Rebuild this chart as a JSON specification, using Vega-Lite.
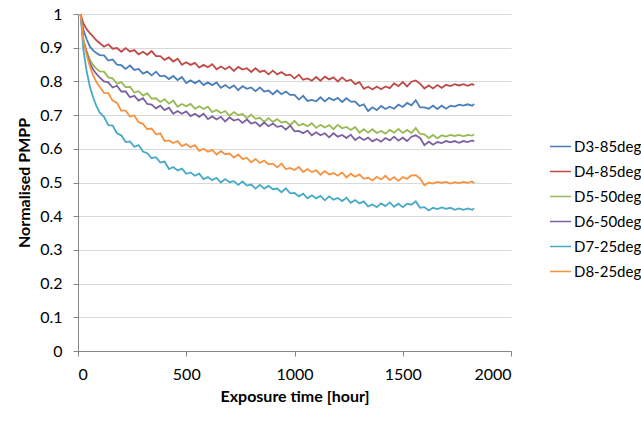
{
"$schema": "https://vega.github.io/schema/vega-lite/v6.json",
"width": 433, "height": 337,
"autosize": {"type": "none"},
"padding": {"left": 78, "top": 14, "right": 130, "bottom": 70},
"background": "white",
"config": {"font": "Lato", "view": {"stroke": null}},
"data": {"values": [
{"s":"D3-85deg","t":12,"p":1.0},{"s":"D3-85deg","t":25,"p":0.953},{"s":"D3-85deg","t":40,"p":0.925},{"s":"D3-85deg","t":55,"p":0.903},{"s":"D3-85deg","t":70,"p":0.892},{"s":"D3-85deg","t":85,"p":0.884},{"s":"D3-85deg","t":100,"p":0.878},
{"s":"D3-85deg","t":120,"p":0.877},{"s":"D3-85deg","t":140,"p":0.862},{"s":"D3-85deg","t":160,"p":0.865},{"s":"D3-85deg","t":180,"p":0.850},{"s":"D3-85deg","t":200,"p":0.848},{"s":"D3-85deg","t":220,"p":0.837},{"s":"D3-85deg","t":240,"p":0.847},{"s":"D3-85deg","t":260,"p":0.834},{"s":"D3-85deg","t":280,"p":0.837},{"s":"D3-85deg","t":300,"p":0.823},
{"s":"D3-85deg","t":320,"p":0.829},{"s":"D3-85deg","t":340,"p":0.818},{"s":"D3-85deg","t":360,"p":0.829},{"s":"D3-85deg","t":380,"p":0.815},{"s":"D3-85deg","t":400,"p":0.817},{"s":"D3-85deg","t":420,"p":0.807},{"s":"D3-85deg","t":440,"p":0.816},{"s":"D3-85deg","t":460,"p":0.804},{"s":"D3-85deg","t":480,"p":0.813},{"s":"D3-85deg","t":500,"p":0.795},
{"s":"D3-85deg","t":520,"p":0.803},{"s":"D3-85deg","t":540,"p":0.795},{"s":"D3-85deg","t":560,"p":0.802},{"s":"D3-85deg","t":580,"p":0.789},{"s":"D3-85deg","t":600,"p":0.797},{"s":"D3-85deg","t":620,"p":0.789},{"s":"D3-85deg","t":640,"p":0.797},{"s":"D3-85deg","t":660,"p":0.781},{"s":"D3-85deg","t":680,"p":0.789},{"s":"D3-85deg","t":700,"p":0.780},
{"s":"D3-85deg","t":720,"p":0.788},{"s":"D3-85deg","t":740,"p":0.774},{"s":"D3-85deg","t":760,"p":0.786},{"s":"D3-85deg","t":780,"p":0.778},{"s":"D3-85deg","t":800,"p":0.782},{"s":"D3-85deg","t":820,"p":0.771},{"s":"D3-85deg","t":840,"p":0.782},{"s":"D3-85deg","t":860,"p":0.770},{"s":"D3-85deg","t":880,"p":0.773},{"s":"D3-85deg","t":900,"p":0.762},
{"s":"D3-85deg","t":920,"p":0.773},{"s":"D3-85deg","t":940,"p":0.762},{"s":"D3-85deg","t":960,"p":0.770},{"s":"D3-85deg","t":980,"p":0.760},{"s":"D3-85deg","t":1000,"p":0.760},{"s":"D3-85deg","t":1020,"p":0.746},{"s":"D3-85deg","t":1040,"p":0.757},{"s":"D3-85deg","t":1060,"p":0.742},{"s":"D3-85deg","t":1080,"p":0.745},{"s":"D3-85deg","t":1100,"p":0.741},
{"s":"D3-85deg","t":1120,"p":0.753},{"s":"D3-85deg","t":1140,"p":0.741},{"s":"D3-85deg","t":1160,"p":0.751},{"s":"D3-85deg","t":1180,"p":0.744},{"s":"D3-85deg","t":1200,"p":0.751},{"s":"D3-85deg","t":1220,"p":0.739},{"s":"D3-85deg","t":1240,"p":0.750},{"s":"D3-85deg","t":1260,"p":0.740},{"s":"D3-85deg","t":1280,"p":0.740},{"s":"D3-85deg","t":1300,"p":0.727},
{"s":"D3-85deg","t":1320,"p":0.732},{"s":"D3-85deg","t":1340,"p":0.712},{"s":"D3-85deg","t":1360,"p":0.723},{"s":"D3-85deg","t":1380,"p":0.715},{"s":"D3-85deg","t":1400,"p":0.727},{"s":"D3-85deg","t":1420,"p":0.718},{"s":"D3-85deg","t":1440,"p":0.725},{"s":"D3-85deg","t":1460,"p":0.719},{"s":"D3-85deg","t":1480,"p":0.731},{"s":"D3-85deg","t":1500,"p":0.724},
{"s":"D3-85deg","t":1520,"p":0.736},{"s":"D3-85deg","t":1540,"p":0.729},{"s":"D3-85deg","t":1560,"p":0.744},{"s":"D3-85deg","t":1580,"p":0.723},{"s":"D3-85deg","t":1600,"p":0.723},{"s":"D3-85deg","t":1620,"p":0.719},{"s":"D3-85deg","t":1640,"p":0.728},{"s":"D3-85deg","t":1660,"p":0.718},{"s":"D3-85deg","t":1680,"p":0.728},{"s":"D3-85deg","t":1700,"p":0.719},
{"s":"D3-85deg","t":1720,"p":0.728},{"s":"D3-85deg","t":1740,"p":0.725},{"s":"D3-85deg","t":1760,"p":0.731},{"s":"D3-85deg","t":1780,"p":0.728},{"s":"D3-85deg","t":1800,"p":0.732},{"s":"D3-85deg","t":1820,"p":0.728},{"s":"D3-85deg","t":1830,"p":0.733},

{"s":"D4-85deg","t":12,"p":1.0},{"s":"D4-85deg","t":25,"p":0.972},{"s":"D4-85deg","t":40,"p":0.955},{"s":"D4-85deg","t":55,"p":0.943},{"s":"D4-85deg","t":70,"p":0.933},{"s":"D4-85deg","t":85,"p":0.922},{"s":"D4-85deg","t":100,"p":0.914},
{"s":"D4-85deg","t":120,"p":0.903},{"s":"D4-85deg","t":140,"p":0.910},{"s":"D4-85deg","t":160,"p":0.897},{"s":"D4-85deg","t":180,"p":0.899},{"s":"D4-85deg","t":200,"p":0.888},{"s":"D4-85deg","t":220,"p":0.899},{"s":"D4-85deg","t":240,"p":0.889},{"s":"D4-85deg","t":260,"p":0.893},{"s":"D4-85deg","t":280,"p":0.880},{"s":"D4-85deg","t":300,"p":0.888},
{"s":"D4-85deg","t":320,"p":0.879},{"s":"D4-85deg","t":340,"p":0.890},{"s":"D4-85deg","t":360,"p":0.875},{"s":"D4-85deg","t":380,"p":0.875},{"s":"D4-85deg","t":400,"p":0.864},{"s":"D4-85deg","t":420,"p":0.871},{"s":"D4-85deg","t":440,"p":0.859},{"s":"D4-85deg","t":460,"p":0.867},{"s":"D4-85deg","t":480,"p":0.849},{"s":"D4-85deg","t":500,"p":0.857},
{"s":"D4-85deg","t":520,"p":0.849},{"s":"D4-85deg","t":540,"p":0.855},{"s":"D4-85deg","t":560,"p":0.841},{"s":"D4-85deg","t":580,"p":0.849},{"s":"D4-85deg","t":600,"p":0.842},{"s":"D4-85deg","t":620,"p":0.851},{"s":"D4-85deg","t":640,"p":0.836},{"s":"D4-85deg","t":660,"p":0.844},{"s":"D4-85deg","t":680,"p":0.836},{"s":"D4-85deg","t":700,"p":0.844},
{"s":"D4-85deg","t":720,"p":0.831},{"s":"D4-85deg","t":740,"p":0.843},{"s":"D4-85deg","t":760,"p":0.835},{"s":"D4-85deg","t":780,"p":0.839},{"s":"D4-85deg","t":800,"p":0.828},{"s":"D4-85deg","t":820,"p":0.839},{"s":"D4-85deg","t":840,"p":0.828},{"s":"D4-85deg","t":860,"p":0.832},{"s":"D4-85deg","t":880,"p":0.821},{"s":"D4-85deg","t":900,"p":0.832},
{"s":"D4-85deg","t":920,"p":0.821},{"s":"D4-85deg","t":940,"p":0.828},{"s":"D4-85deg","t":960,"p":0.818},{"s":"D4-85deg","t":980,"p":0.820},{"s":"D4-85deg","t":1000,"p":0.809},{"s":"D4-85deg","t":1020,"p":0.820},{"s":"D4-85deg","t":1040,"p":0.805},{"s":"D4-85deg","t":1060,"p":0.809},{"s":"D4-85deg","t":1080,"p":0.802},{"s":"D4-85deg","t":1100,"p":0.813},
{"s":"D4-85deg","t":1120,"p":0.802},{"s":"D4-85deg","t":1140,"p":0.814},{"s":"D4-85deg","t":1160,"p":0.806},{"s":"D4-85deg","t":1180,"p":0.812},{"s":"D4-85deg","t":1200,"p":0.800},{"s":"D4-85deg","t":1220,"p":0.812},{"s":"D4-85deg","t":1240,"p":0.801},{"s":"D4-85deg","t":1260,"p":0.805},{"s":"D4-85deg","t":1280,"p":0.792},{"s":"D4-85deg","t":1300,"p":0.798},
{"s":"D4-85deg","t":1320,"p":0.778},{"s":"D4-85deg","t":1340,"p":0.784},{"s":"D4-85deg","t":1360,"p":0.776},{"s":"D4-85deg","t":1380,"p":0.785},{"s":"D4-85deg","t":1400,"p":0.777},{"s":"D4-85deg","t":1420,"p":0.785},{"s":"D4-85deg","t":1440,"p":0.780},{"s":"D4-85deg","t":1460,"p":0.794},{"s":"D4-85deg","t":1480,"p":0.786},{"s":"D4-85deg","t":1500,"p":0.798},
{"s":"D4-85deg","t":1520,"p":0.785},{"s":"D4-85deg","t":1540,"p":0.799},{"s":"D4-85deg","t":1560,"p":0.803},{"s":"D4-85deg","t":1580,"p":0.793},{"s":"D4-85deg","t":1600,"p":0.779},{"s":"D4-85deg","t":1620,"p":0.788},{"s":"D4-85deg","t":1640,"p":0.779},{"s":"D4-85deg","t":1660,"p":0.789},{"s":"D4-85deg","t":1680,"p":0.781},{"s":"D4-85deg","t":1700,"p":0.790},
{"s":"D4-85deg","t":1720,"p":0.786},{"s":"D4-85deg","t":1740,"p":0.792},{"s":"D4-85deg","t":1760,"p":0.788},{"s":"D4-85deg","t":1780,"p":0.792},{"s":"D4-85deg","t":1800,"p":0.787},{"s":"D4-85deg","t":1820,"p":0.792},{"s":"D4-85deg","t":1830,"p":0.789},

{"s":"D5-50deg","t":12,"p":1.0},{"s":"D5-50deg","t":25,"p":0.923},{"s":"D5-50deg","t":40,"p":0.890},{"s":"D5-50deg","t":55,"p":0.864},{"s":"D5-50deg","t":70,"p":0.848},{"s":"D5-50deg","t":85,"p":0.838},{"s":"D5-50deg","t":100,"p":0.830},
{"s":"D5-50deg","t":120,"p":0.829},{"s":"D5-50deg","t":140,"p":0.812},{"s":"D5-50deg","t":160,"p":0.809},{"s":"D5-50deg","t":180,"p":0.793},{"s":"D5-50deg","t":200,"p":0.798},{"s":"D5-50deg","t":220,"p":0.783},{"s":"D5-50deg","t":240,"p":0.784},{"s":"D5-50deg","t":260,"p":0.767},{"s":"D5-50deg","t":280,"p":0.771},{"s":"D5-50deg","t":300,"p":0.758},
{"s":"D5-50deg","t":320,"p":0.765},{"s":"D5-50deg","t":340,"p":0.749},{"s":"D5-50deg","t":360,"p":0.750},{"s":"D5-50deg","t":380,"p":0.739},{"s":"D5-50deg","t":400,"p":0.747},{"s":"D5-50deg","t":420,"p":0.734},{"s":"D5-50deg","t":440,"p":0.743},{"s":"D5-50deg","t":460,"p":0.725},{"s":"D5-50deg","t":480,"p":0.733},{"s":"D5-50deg","t":500,"p":0.726},
{"s":"D5-50deg","t":520,"p":0.733},{"s":"D5-50deg","t":540,"p":0.719},{"s":"D5-50deg","t":560,"p":0.726},{"s":"D5-50deg","t":580,"p":0.718},{"s":"D5-50deg","t":600,"p":0.725},{"s":"D5-50deg","t":620,"p":0.709},{"s":"D5-50deg","t":640,"p":0.715},{"s":"D5-50deg","t":660,"p":0.706},{"s":"D5-50deg","t":680,"p":0.712},{"s":"D5-50deg","t":700,"p":0.698},
{"s":"D5-50deg","t":720,"p":0.709},{"s":"D5-50deg","t":740,"p":0.700},{"s":"D5-50deg","t":760,"p":0.703},{"s":"D5-50deg","t":780,"p":0.691},{"s":"D5-50deg","t":800,"p":0.701},{"s":"D5-50deg","t":820,"p":0.689},{"s":"D5-50deg","t":840,"p":0.692},{"s":"D5-50deg","t":860,"p":0.680},{"s":"D5-50deg","t":880,"p":0.691},{"s":"D5-50deg","t":900,"p":0.680},
{"s":"D5-50deg","t":920,"p":0.688},{"s":"D5-50deg","t":940,"p":0.678},{"s":"D5-50deg","t":960,"p":0.681},{"s":"D5-50deg","t":980,"p":0.670},{"s":"D5-50deg","t":1000,"p":0.683},{"s":"D5-50deg","t":1020,"p":0.669},{"s":"D5-50deg","t":1040,"p":0.674},{"s":"D5-50deg","t":1060,"p":0.667},{"s":"D5-50deg","t":1080,"p":0.676},{"s":"D5-50deg","t":1100,"p":0.662},
{"s":"D5-50deg","t":1120,"p":0.671},{"s":"D5-50deg","t":1140,"p":0.663},{"s":"D5-50deg","t":1160,"p":0.670},{"s":"D5-50deg","t":1180,"p":0.658},{"s":"D5-50deg","t":1200,"p":0.671},{"s":"D5-50deg","t":1220,"p":0.661},{"s":"D5-50deg","t":1240,"p":0.665},{"s":"D5-50deg","t":1260,"p":0.656},{"s":"D5-50deg","t":1280,"p":0.665},{"s":"D5-50deg","t":1300,"p":0.648},
{"s":"D5-50deg","t":1320,"p":0.658},{"s":"D5-50deg","t":1340,"p":0.648},{"s":"D5-50deg","t":1360,"p":0.658},{"s":"D5-50deg","t":1380,"p":0.647},{"s":"D5-50deg","t":1400,"p":0.653},{"s":"D5-50deg","t":1420,"p":0.645},{"s":"D5-50deg","t":1440,"p":0.656},{"s":"D5-50deg","t":1460,"p":0.648},{"s":"D5-50deg","t":1480,"p":0.659},{"s":"D5-50deg","t":1500,"p":0.647},
{"s":"D5-50deg","t":1520,"p":0.656},{"s":"D5-50deg","t":1540,"p":0.647},{"s":"D5-50deg","t":1560,"p":0.662},{"s":"D5-50deg","t":1580,"p":0.644},{"s":"D5-50deg","t":1600,"p":0.643},{"s":"D5-50deg","t":1620,"p":0.632},{"s":"D5-50deg","t":1640,"p":0.641},{"s":"D5-50deg","t":1660,"p":0.631},{"s":"D5-50deg","t":1680,"p":0.640},{"s":"D5-50deg","t":1700,"p":0.636},
{"s":"D5-50deg","t":1720,"p":0.641},{"s":"D5-50deg","t":1740,"p":0.638},{"s":"D5-50deg","t":1760,"p":0.641},{"s":"D5-50deg","t":1780,"p":0.637},{"s":"D5-50deg","t":1800,"p":0.641},{"s":"D5-50deg","t":1820,"p":0.639},{"s":"D5-50deg","t":1830,"p":0.643},

{"s":"D6-50deg","t":12,"p":1.0},{"s":"D6-50deg","t":25,"p":0.920},{"s":"D6-50deg","t":40,"p":0.885},{"s":"D6-50deg","t":55,"p":0.854},{"s":"D6-50deg","t":70,"p":0.835},{"s":"D6-50deg","t":85,"p":0.822},{"s":"D6-50deg","t":100,"p":0.812},
{"s":"D6-50deg","t":120,"p":0.800},{"s":"D6-50deg","t":140,"p":0.797},{"s":"D6-50deg","t":160,"p":0.782},{"s":"D6-50deg","t":180,"p":0.787},{"s":"D6-50deg","t":200,"p":0.770},{"s":"D6-50deg","t":220,"p":0.770},{"s":"D6-50deg","t":240,"p":0.753},{"s":"D6-50deg","t":260,"p":0.757},{"s":"D6-50deg","t":280,"p":0.743},{"s":"D6-50deg","t":300,"p":0.750},
{"s":"D6-50deg","t":320,"p":0.733},{"s":"D6-50deg","t":340,"p":0.731},{"s":"D6-50deg","t":360,"p":0.720},{"s":"D6-50deg","t":380,"p":0.728},{"s":"D6-50deg","t":400,"p":0.715},{"s":"D6-50deg","t":420,"p":0.722},{"s":"D6-50deg","t":440,"p":0.704},{"s":"D6-50deg","t":460,"p":0.712},{"s":"D6-50deg","t":480,"p":0.704},{"s":"D6-50deg","t":500,"p":0.711},
{"s":"D6-50deg","t":520,"p":0.697},{"s":"D6-50deg","t":540,"p":0.704},{"s":"D6-50deg","t":560,"p":0.695},{"s":"D6-50deg","t":580,"p":0.704},{"s":"D6-50deg","t":600,"p":0.688},{"s":"D6-50deg","t":620,"p":0.696},{"s":"D6-50deg","t":640,"p":0.687},{"s":"D6-50deg","t":660,"p":0.695},{"s":"D6-50deg","t":680,"p":0.681},{"s":"D6-50deg","t":700,"p":0.693},
{"s":"D6-50deg","t":720,"p":0.684},{"s":"D6-50deg","t":740,"p":0.688},{"s":"D6-50deg","t":760,"p":0.677},{"s":"D6-50deg","t":780,"p":0.687},{"s":"D6-50deg","t":800,"p":0.675},{"s":"D6-50deg","t":820,"p":0.679},{"s":"D6-50deg","t":840,"p":0.667},{"s":"D6-50deg","t":860,"p":0.678},{"s":"D6-50deg","t":880,"p":0.667},{"s":"D6-50deg","t":900,"p":0.675},
{"s":"D6-50deg","t":920,"p":0.665},{"s":"D6-50deg","t":940,"p":0.668},{"s":"D6-50deg","t":960,"p":0.657},{"s":"D6-50deg","t":980,"p":0.669},{"s":"D6-50deg","t":1000,"p":0.652},{"s":"D6-50deg","t":1020,"p":0.653},{"s":"D6-50deg","t":1040,"p":0.646},{"s":"D6-50deg","t":1060,"p":0.654},{"s":"D6-50deg","t":1080,"p":0.640},{"s":"D6-50deg","t":1100,"p":0.649},
{"s":"D6-50deg","t":1120,"p":0.640},{"s":"D6-50deg","t":1140,"p":0.646},{"s":"D6-50deg","t":1160,"p":0.634},{"s":"D6-50deg","t":1180,"p":0.646},{"s":"D6-50deg","t":1200,"p":0.636},{"s":"D6-50deg","t":1220,"p":0.641},{"s":"D6-50deg","t":1240,"p":0.632},{"s":"D6-50deg","t":1260,"p":0.642},{"s":"D6-50deg","t":1280,"p":0.626},{"s":"D6-50deg","t":1300,"p":0.635},
{"s":"D6-50deg","t":1320,"p":0.626},{"s":"D6-50deg","t":1340,"p":0.633},{"s":"D6-50deg","t":1360,"p":0.622},{"s":"D6-50deg","t":1380,"p":0.629},{"s":"D6-50deg","t":1400,"p":0.621},{"s":"D6-50deg","t":1420,"p":0.632},{"s":"D6-50deg","t":1440,"p":0.625},{"s":"D6-50deg","t":1460,"p":0.636},{"s":"D6-50deg","t":1480,"p":0.624},{"s":"D6-50deg","t":1500,"p":0.633},
{"s":"D6-50deg","t":1520,"p":0.623},{"s":"D6-50deg","t":1540,"p":0.636},{"s":"D6-50deg","t":1560,"p":0.640},{"s":"D6-50deg","t":1580,"p":0.632},{"s":"D6-50deg","t":1600,"p":0.611},{"s":"D6-50deg","t":1620,"p":0.621},{"s":"D6-50deg","t":1640,"p":0.612},{"s":"D6-50deg","t":1660,"p":0.620},{"s":"D6-50deg","t":1680,"p":0.617},{"s":"D6-50deg","t":1700,"p":0.623},
{"s":"D6-50deg","t":1720,"p":0.619},{"s":"D6-50deg","t":1740,"p":0.623},{"s":"D6-50deg","t":1760,"p":0.618},{"s":"D6-50deg","t":1780,"p":0.623},{"s":"D6-50deg","t":1800,"p":0.620},{"s":"D6-50deg","t":1820,"p":0.625},{"s":"D6-50deg","t":1830,"p":0.622},

{"s":"D7-25deg","t":12,"p":1.0},{"s":"D7-25deg","t":25,"p":0.893},{"s":"D7-25deg","t":40,"p":0.830},{"s":"D7-25deg","t":55,"p":0.784},{"s":"D7-25deg","t":70,"p":0.752},{"s":"D7-25deg","t":85,"p":0.727},{"s":"D7-25deg","t":100,"p":0.708},
{"s":"D7-25deg","t":120,"p":0.695},{"s":"D7-25deg","t":140,"p":0.670},{"s":"D7-25deg","t":160,"p":0.669},{"s":"D7-25deg","t":180,"p":0.646},{"s":"D7-25deg","t":200,"p":0.640},{"s":"D7-25deg","t":220,"p":0.620},{"s":"D7-25deg","t":240,"p":0.622},{"s":"D7-25deg","t":260,"p":0.606},{"s":"D7-25deg","t":280,"p":0.611},{"s":"D7-25deg","t":300,"p":0.592},
{"s":"D7-25deg","t":320,"p":0.587},{"s":"D7-25deg","t":340,"p":0.572},{"s":"D7-25deg","t":360,"p":0.575},{"s":"D7-25deg","t":380,"p":0.559},{"s":"D7-25deg","t":400,"p":0.562},{"s":"D7-25deg","t":420,"p":0.540},{"s":"D7-25deg","t":440,"p":0.546},{"s":"D7-25deg","t":460,"p":0.536},{"s":"D7-25deg","t":480,"p":0.541},{"s":"D7-25deg","t":500,"p":0.526},
{"s":"D7-25deg","t":520,"p":0.530},{"s":"D7-25deg","t":540,"p":0.520},{"s":"D7-25deg","t":560,"p":0.526},{"s":"D7-25deg","t":580,"p":0.510},{"s":"D7-25deg","t":600,"p":0.516},{"s":"D7-25deg","t":620,"p":0.507},{"s":"D7-25deg","t":640,"p":0.514},{"s":"D7-25deg","t":660,"p":0.500},{"s":"D7-25deg","t":680,"p":0.510},{"s":"D7-25deg","t":700,"p":0.501},
{"s":"D7-25deg","t":720,"p":0.504},{"s":"D7-25deg","t":740,"p":0.493},{"s":"D7-25deg","t":760,"p":0.503},{"s":"D7-25deg","t":780,"p":0.491},{"s":"D7-25deg","t":800,"p":0.494},{"s":"D7-25deg","t":820,"p":0.482},{"s":"D7-25deg","t":840,"p":0.493},{"s":"D7-25deg","t":860,"p":0.482},{"s":"D7-25deg","t":880,"p":0.490},{"s":"D7-25deg","t":900,"p":0.480},
{"s":"D7-25deg","t":920,"p":0.482},{"s":"D7-25deg","t":940,"p":0.471},{"s":"D7-25deg","t":960,"p":0.483},{"s":"D7-25deg","t":980,"p":0.468},{"s":"D7-25deg","t":1000,"p":0.469},{"s":"D7-25deg","t":1020,"p":0.459},{"s":"D7-25deg","t":1040,"p":0.467},{"s":"D7-25deg","t":1060,"p":0.453},{"s":"D7-25deg","t":1080,"p":0.462},{"s":"D7-25deg","t":1100,"p":0.453},
{"s":"D7-25deg","t":1120,"p":0.460},{"s":"D7-25deg","t":1140,"p":0.447},{"s":"D7-25deg","t":1160,"p":0.459},{"s":"D7-25deg","t":1180,"p":0.449},{"s":"D7-25deg","t":1200,"p":0.454},{"s":"D7-25deg","t":1220,"p":0.445},{"s":"D7-25deg","t":1240,"p":0.455},{"s":"D7-25deg","t":1260,"p":0.440},{"s":"D7-25deg","t":1280,"p":0.448},{"s":"D7-25deg","t":1300,"p":0.438},
{"s":"D7-25deg","t":1320,"p":0.444},{"s":"D7-25deg","t":1340,"p":0.429},{"s":"D7-25deg","t":1360,"p":0.435},{"s":"D7-25deg","t":1380,"p":0.427},{"s":"D7-25deg","t":1400,"p":0.438},{"s":"D7-25deg","t":1420,"p":0.430},{"s":"D7-25deg","t":1440,"p":0.441},{"s":"D7-25deg","t":1460,"p":0.428},{"s":"D7-25deg","t":1480,"p":0.437},{"s":"D7-25deg","t":1500,"p":0.427},
{"s":"D7-25deg","t":1520,"p":0.437},{"s":"D7-25deg","t":1540,"p":0.434},{"s":"D7-25deg","t":1560,"p":0.444},{"s":"D7-25deg","t":1580,"p":0.425},{"s":"D7-25deg","t":1600,"p":0.427},{"s":"D7-25deg","t":1620,"p":0.417},{"s":"D7-25deg","t":1640,"p":0.425},{"s":"D7-25deg","t":1660,"p":0.421},{"s":"D7-25deg","t":1680,"p":0.426},{"s":"D7-25deg","t":1700,"p":0.422},
{"s":"D7-25deg","t":1720,"p":0.425},{"s":"D7-25deg","t":1740,"p":0.419},{"s":"D7-25deg","t":1760,"p":0.423},{"s":"D7-25deg","t":1780,"p":0.419},{"s":"D7-25deg","t":1800,"p":0.423},{"s":"D7-25deg","t":1820,"p":0.419},{"s":"D7-25deg","t":1830,"p":0.423},

{"s":"D8-25deg","t":12,"p":1.0},{"s":"D8-25deg","t":25,"p":0.920},{"s":"D8-25deg","t":40,"p":0.878},{"s":"D8-25deg","t":55,"p":0.844},{"s":"D8-25deg","t":70,"p":0.818},{"s":"D8-25deg","t":85,"p":0.798},{"s":"D8-25deg","t":100,"p":0.784},
{"s":"D8-25deg","t":120,"p":0.766},{"s":"D8-25deg","t":140,"p":0.765},{"s":"D8-25deg","t":160,"p":0.743},{"s":"D8-25deg","t":180,"p":0.736},{"s":"D8-25deg","t":200,"p":0.713},{"s":"D8-25deg","t":220,"p":0.713},{"s":"D8-25deg","t":240,"p":0.696},{"s":"D8-25deg","t":260,"p":0.699},{"s":"D8-25deg","t":280,"p":0.679},{"s":"D8-25deg","t":300,"p":0.674},
{"s":"D8-25deg","t":320,"p":0.658},{"s":"D8-25deg","t":340,"p":0.660},{"s":"D8-25deg","t":360,"p":0.643},{"s":"D8-25deg","t":380,"p":0.646},{"s":"D8-25deg","t":400,"p":0.623},{"s":"D8-25deg","t":420,"p":0.625},{"s":"D8-25deg","t":440,"p":0.617},{"s":"D8-25deg","t":460,"p":0.623},{"s":"D8-25deg","t":480,"p":0.608},{"s":"D8-25deg","t":500,"p":0.614},
{"s":"D8-25deg","t":520,"p":0.605},{"s":"D8-25deg","t":540,"p":0.611},{"s":"D8-25deg","t":560,"p":0.594},{"s":"D8-25deg","t":580,"p":0.600},{"s":"D8-25deg","t":600,"p":0.591},{"s":"D8-25deg","t":620,"p":0.597},{"s":"D8-25deg","t":640,"p":0.583},{"s":"D8-25deg","t":660,"p":0.593},{"s":"D8-25deg","t":680,"p":0.584},{"s":"D8-25deg","t":700,"p":0.586},
{"s":"D8-25deg","t":720,"p":0.574},{"s":"D8-25deg","t":740,"p":0.583},{"s":"D8-25deg","t":760,"p":0.570},{"s":"D8-25deg","t":780,"p":0.573},{"s":"D8-25deg","t":800,"p":0.560},{"s":"D8-25deg","t":820,"p":0.570},{"s":"D8-25deg","t":840,"p":0.558},{"s":"D8-25deg","t":860,"p":0.565},{"s":"D8-25deg","t":880,"p":0.554},{"s":"D8-25deg","t":900,"p":0.556},
{"s":"D8-25deg","t":920,"p":0.545},{"s":"D8-25deg","t":940,"p":0.556},{"s":"D8-25deg","t":960,"p":0.540},{"s":"D8-25deg","t":980,"p":0.543},{"s":"D8-25deg","t":1000,"p":0.537},{"s":"D8-25deg","t":1020,"p":0.546},{"s":"D8-25deg","t":1040,"p":0.531},{"s":"D8-25deg","t":1060,"p":0.540},{"s":"D8-25deg","t":1080,"p":0.531},{"s":"D8-25deg","t":1100,"p":0.536},
{"s":"D8-25deg","t":1120,"p":0.523},{"s":"D8-25deg","t":1140,"p":0.534},{"s":"D8-25deg","t":1160,"p":0.524},{"s":"D8-25deg","t":1180,"p":0.528},{"s":"D8-25deg","t":1200,"p":0.520},{"s":"D8-25deg","t":1220,"p":0.530},{"s":"D8-25deg","t":1240,"p":0.515},{"s":"D8-25deg","t":1260,"p":0.526},{"s":"D8-25deg","t":1280,"p":0.517},{"s":"D8-25deg","t":1300,"p":0.524},
{"s":"D8-25deg","t":1320,"p":0.511},{"s":"D8-25deg","t":1340,"p":0.514},{"s":"D8-25deg","t":1360,"p":0.506},{"s":"D8-25deg","t":1380,"p":0.517},{"s":"D8-25deg","t":1400,"p":0.509},{"s":"D8-25deg","t":1420,"p":0.520},{"s":"D8-25deg","t":1440,"p":0.507},{"s":"D8-25deg","t":1460,"p":0.516},{"s":"D8-25deg","t":1480,"p":0.505},{"s":"D8-25deg","t":1500,"p":0.516},
{"s":"D8-25deg","t":1520,"p":0.511},{"s":"D8-25deg","t":1540,"p":0.521},{"s":"D8-25deg","t":1560,"p":0.522},{"s":"D8-25deg","t":1580,"p":0.512},{"s":"D8-25deg","t":1600,"p":0.492},{"s":"D8-25deg","t":1620,"p":0.500},{"s":"D8-25deg","t":1640,"p":0.497},{"s":"D8-25deg","t":1660,"p":0.502},{"s":"D8-25deg","t":1680,"p":0.499},{"s":"D8-25deg","t":1700,"p":0.502},
{"s":"D8-25deg","t":1720,"p":0.497},{"s":"D8-25deg","t":1740,"p":0.501},{"s":"D8-25deg","t":1760,"p":0.498},{"s":"D8-25deg","t":1780,"p":0.502},{"s":"D8-25deg","t":1800,"p":0.499},{"s":"D8-25deg","t":1820,"p":0.503},{"s":"D8-25deg","t":1830,"p":0.498}
]},
"mark": {"type": "line", "strokeWidth": 1.8},
"encoding": {
  "x": {"field": "t", "type": "quantitative",
    "scale": {"domain": [0, 2000], "nice": false},
    "axis": {"values": [0, 500, 1000, 1500, 2000], "format": "d", "title": "Exposure time [hour]", "grid": false,
      "domainColor": "#868686", "tickColor": "#868686", "tickSize": 5, "labelFontSize": 16, "labelColor": "#000000",
      "labelPadding": 10, "titleFontSize": 16, "titleFontWeight": "bold", "titleColor": "#000000", "titlePadding": 6}},
  "y": {"field": "p", "type": "quantitative",
    "scale": {"domain": [0, 1], "nice": false},
    "axis": {"values": [0, 0.1, 0.2, 0.3, 0.4, 0.5, 0.6, 0.7, 0.8, 0.9, 1], "format": "~g", "title": "Normalised PMPP",
      "gridColor": "#d9d9d9", "domainColor": "#868686", "tickColor": "#868686", "tickSize": 5, "labelFontSize": 16,
      "labelColor": "#000000", "labelPadding": 11, "titleFontSize": 16, "titleFontWeight": "bold", "titleColor": "#000000", "titlePadding": 7}},
  "color": {"field": "s", "type": "nominal",
    "scale": {"domain": ["D3-85deg", "D4-85deg", "D5-50deg", "D6-50deg", "D7-25deg", "D8-25deg"],
      "range": ["#4a7ebb", "#be4b48", "#98b954", "#7d60a0", "#46aac5", "#f69240"]},
    "legend": {"title": null, "orient": "none", "legendX": 471, "legendY": 121, "symbolType": "stroke", "symbolSize": 440,
      "symbolStrokeWidth": 1.5, "labelFontSize": 15, "labelColor": "#000000", "rowPadding": 5, "labelOffset": 2}}
}
}
